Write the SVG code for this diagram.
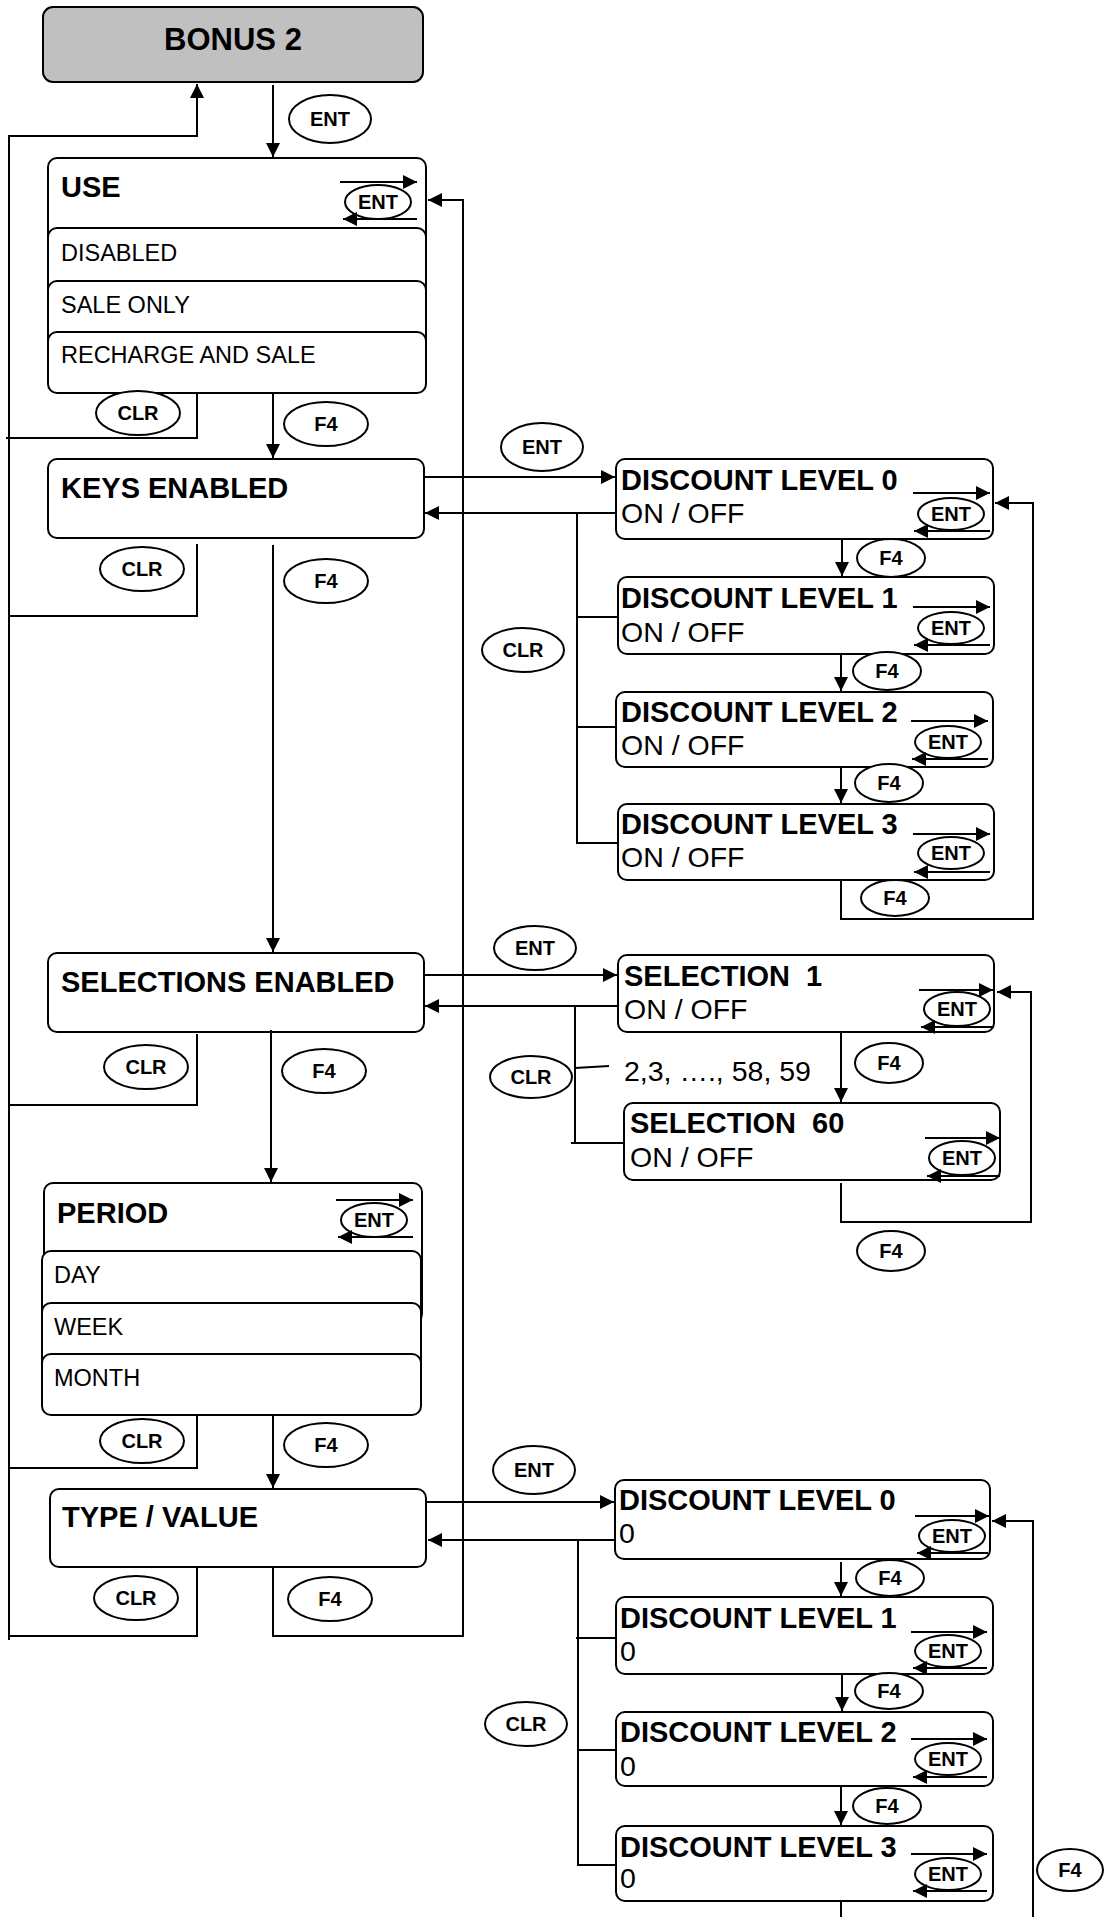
<svg xmlns="http://www.w3.org/2000/svg" width="1104" height="1917" viewBox="0 0 1104 1917">
<defs>
<marker id="ah" markerUnits="userSpaceOnUse" markerWidth="15" markerHeight="14" refX="14" refY="7" orient="auto">
<path d="M0,0 L14,7 L0,14 z" fill="#000"/>
</marker>
<style>
.bx{fill:#fff;stroke:#000;stroke-width:2}
.hd{fill:#c0c0c0;stroke:#000;stroke-width:2}
.el{fill:#fff;stroke:#000;stroke-width:2}
.ln{fill:none;stroke:#000;stroke-width:2}
.ar{fill:none;stroke:#000;stroke-width:2;marker-end:url(#ah)}
text{font-family:"Liberation Sans",Arial,sans-serif;fill:#000}
.k{font-weight:bold;font-size:20px;text-anchor:middle}
.t{font-weight:bold;font-size:29px}
.o{font-size:23.5px}
.v{font-size:28.5px}
</style>
</defs>
<rect width="1104" height="1917" fill="#fff"/>

<g id="bonus2">
<rect class="hd" x="43" y="7" width="380" height="75" rx="10"/>
<text x="233" y="50" font-size="31" font-weight="bold" text-anchor="middle">BONUS 2</text>
</g>

<g id="use">
<rect class="bx" x="48" y="158" width="378" height="142" rx="9"/>
<rect class="bx" x="48" y="228" width="378" height="100" rx="9"/>
<rect class="bx" x="48" y="281" width="378" height="100" rx="9"/>
<rect class="bx" x="48" y="332" width="378" height="61" rx="9"/>
<text class="t" x="61" y="197">USE</text>
<text class="o" x="61" y="261">DISABLED</text>
<text class="o" x="61" y="313">SALE ONLY</text>
<text class="o" x="61" y="363">RECHARGE AND SALE</text>
<ellipse class="el" cx="378" cy="202" rx="33" ry="17"/>
<text class="k" x="378" y="209">ENT</text>
<path class="ar" d="M340,182 H417"/>
<path class="ar" d="M417,219 H343"/>
</g>

<g id="keys">
<rect class="bx" x="48" y="459" width="376" height="79" rx="9"/>
<text class="t" x="61" y="498">KEYS ENABLED</text>
</g>

<g id="selections">
<rect class="bx" x="48" y="953" width="376" height="79" rx="9"/>
<text class="t" x="61" y="992">SELECTIONS ENABLED</text>
</g>

<g id="period">
<rect class="bx" x="44" y="1183" width="378" height="140" rx="9"/>
<rect class="bx" x="42" y="1251" width="379" height="100" rx="9"/>
<rect class="bx" x="42" y="1303" width="379" height="100" rx="9"/>
<rect class="bx" x="42" y="1354" width="379" height="61" rx="9"/>
<text class="t" x="57" y="1223">PERIOD</text>
<text class="o" x="54" y="1283">DAY</text>
<text class="o" x="54" y="1335">WEEK</text>
<text class="o" x="54" y="1386">MONTH</text>
<ellipse class="el" cx="374" cy="1220" rx="33" ry="17"/>
<text class="k" x="374" y="1227">ENT</text>
<path class="ar" d="M336,1200 H413"/>
<path class="ar" d="M413,1237 H338"/>
</g>

<g id="typevalue">
<rect class="bx" x="50" y="1489" width="376" height="78" rx="9"/>
<text class="t" x="62" y="1527">TYPE / VALUE</text>
</g>

<g id="dl0">
<rect class="bx" x="616" y="459" width="377" height="80" rx="9"/>
<text class="t" x="621" y="490">DISCOUNT LEVEL 0</text>
<text class="v" x="621" y="523">ON / OFF</text>
<ellipse class="el" cx="951" cy="514" rx="33" ry="16"/>
<text class="k" x="951" y="521">ENT</text>
<path class="ar" d="M913,493 H990"/>
<path class="ar" d="M990,531 H914"/>
</g>
<g id="dl1">
<rect class="bx" x="618" y="577" width="376" height="77" rx="9"/>
<text class="t" x="621" y="608">DISCOUNT LEVEL 1</text>
<text class="v" x="621" y="642">ON / OFF</text>
<ellipse class="el" cx="951" cy="628" rx="33" ry="16"/>
<text class="k" x="951" y="635">ENT</text>
<path class="ar" d="M913,607 H990"/>
<path class="ar" d="M990,645 H914"/>
</g>
<g id="dl2">
<rect class="bx" x="616" y="692" width="377" height="75" rx="9"/>
<text class="t" x="621" y="722">DISCOUNT LEVEL 2</text>
<text class="v" x="621" y="755">ON / OFF</text>
<ellipse class="el" cx="948" cy="742" rx="33" ry="16"/>
<text class="k" x="948" y="749">ENT</text>
<path class="ar" d="M911,721 H988"/>
<path class="ar" d="M988,759 H912"/>
</g>
<g id="dl3">
<rect class="bx" x="618" y="804" width="376" height="76" rx="9"/>
<text class="t" x="621" y="834">DISCOUNT LEVEL 3</text>
<text class="v" x="621" y="867">ON / OFF</text>
<ellipse class="el" cx="951" cy="853" rx="33" ry="16"/>
<text class="k" x="951" y="860">ENT</text>
<path class="ar" d="M913,834 H990"/>
<path class="ar" d="M990,872 H914"/>
</g>

<g id="sel1">
<rect class="bx" x="618" y="955" width="376" height="77" rx="9"/>
<text class="t" x="624" y="986" xml:space="preserve">SELECTION  1</text>
<text class="v" x="624" y="1019">ON / OFF</text>
<ellipse class="el" cx="957" cy="1009" rx="33" ry="17"/>
<text class="k" x="957" y="1016">ENT</text>
<path class="ar" d="M919,990 H993"/>
<path class="ar" d="M994,1027 H921"/>
</g>
<g id="sel60">
<rect class="bx" x="624" y="1103" width="376" height="77" rx="9"/>
<text class="t" x="630" y="1133" xml:space="preserve">SELECTION  60</text>
<text class="v" x="630" y="1167">ON / OFF</text>
<ellipse class="el" cx="962" cy="1158" rx="33" ry="17"/>
<text class="k" x="962" y="1165">ENT</text>
<path class="ar" d="M925,1138 H1000"/>
<path class="ar" d="M1000,1176 H927"/>
</g>

<g id="dl0b">
<rect class="bx" x="615" y="1480" width="375" height="79" rx="9"/>
<text class="t" x="619" y="1510">DISCOUNT LEVEL 0</text>
<text class="v" x="619" y="1543">0</text>
<ellipse class="el" cx="952" cy="1536" rx="33" ry="16"/>
<text class="k" x="952" y="1543">ENT</text>
<path class="ar" d="M915,1516 H989"/>
<path class="ar" d="M988,1553 H917"/>
</g>
<g id="dl1b">
<rect class="bx" x="616" y="1597" width="377" height="77" rx="9"/>
<text class="t" x="620" y="1628">DISCOUNT LEVEL 1</text>
<text class="v" x="620" y="1661">0</text>
<ellipse class="el" cx="948" cy="1651" rx="33" ry="16"/>
<text class="k" x="948" y="1658">ENT</text>
<path class="ar" d="M911,1632 H987"/>
<path class="ar" d="M987,1668 H913"/>
</g>
<g id="dl2b">
<rect class="bx" x="616" y="1712" width="377" height="74" rx="9"/>
<text class="t" x="620" y="1742">DISCOUNT LEVEL 2</text>
<text class="v" x="620" y="1776">0</text>
<ellipse class="el" cx="948" cy="1759" rx="33" ry="16"/>
<text class="k" x="948" y="1766">ENT</text>
<path class="ar" d="M911,1739 H987"/>
<path class="ar" d="M987,1777 H913"/>
</g>
<g id="dl3b">
<rect class="bx" x="616" y="1826" width="377" height="75" rx="9"/>
<text class="t" x="620" y="1857">DISCOUNT LEVEL 3</text>
<text class="v" x="620" y="1888">0</text>
<ellipse class="el" cx="948" cy="1874" rx="33" ry="16"/>
<text class="k" x="948" y="1881">ENT</text>
<path class="ar" d="M911,1854 H987"/>
<path class="ar" d="M987,1891 H913"/>
</g>

<g id="connectors">
<path class="ar" d="M273,85 V157"/>
<path class="ar" d="M9,1640 V136 H197 V84"/>
<path class="ln" d="M197,393 V438 H6"/>
<path class="ar" d="M273,393 V458"/>
<path class="ln" d="M197,544 V616 H9"/>
<path class="ar" d="M273,545 V952"/>
<path class="ln" d="M197,1034 V1105 H9"/>
<path class="ar" d="M271,1030 V1182"/>
<path class="ln" d="M197,1415 V1468 H9"/>
<path class="ar" d="M273,1415 V1488"/>
<path class="ln" d="M197,1567 V1636 H9"/>
<path class="ar" d="M273,1567 V1636 H463 V200 H428"/>

<path class="ar" d="M424,477 H615"/>
<path class="ar" d="M616,513 H425"/>
<path class="ln" d="M577,513 V843 H618 M577,617 H618 M577,727 H616"/>
<path class="ar" d="M842,539 V576"/>
<path class="ar" d="M841,654 V691"/>
<path class="ar" d="M841,767 V803"/>
<path class="ar" d="M841,880 V919 H1033 V503 H995"/>

<path class="ar" d="M424,975 H617"/>
<path class="ar" d="M618,1006 H425"/>
<path class="ln" d="M575,1006 V1143 M571,1143 H624 M575,1068 L609,1066"/>
<path class="ar" d="M841,1032 V1102"/>
<path class="ar" d="M841,1183 V1222 H1031 V992 H997"/>

<path class="ar" d="M426,1502 H614"/>
<path class="ar" d="M615,1540 H428"/>
<path class="ln" d="M578,1540 V1865 H616 M576,1638 H616 M578,1750 H616"/>
<path class="ar" d="M841,1562 V1596"/>
<path class="ar" d="M842,1674 V1711"/>
<path class="ar" d="M841,1786 V1825"/>
<path class="ln" d="M841,1901 V1917"/>
<path class="ar" d="M1033,1917 V1521 H992"/>
</g>

<text class="v" x="624" y="1081">2,3, …., 58, 59</text>

<g id="keys-labels">
<ellipse class="el" cx="330" cy="119" rx="41" ry="24"/><text class="k" x="330" y="126">ENT</text>
<ellipse class="el" cx="138" cy="413" rx="42" ry="22"/><text class="k" x="138" y="420">CLR</text>
<ellipse class="el" cx="326" cy="424" rx="42" ry="22"/><text class="k" x="326" y="431">F4</text>
<ellipse class="el" cx="142" cy="569" rx="42" ry="22"/><text class="k" x="142" y="576">CLR</text>
<ellipse class="el" cx="326" cy="581" rx="42" ry="22"/><text class="k" x="326" y="588">F4</text>
<ellipse class="el" cx="146" cy="1067" rx="42" ry="22"/><text class="k" x="146" y="1074">CLR</text>
<ellipse class="el" cx="324" cy="1071" rx="42" ry="22"/><text class="k" x="324" y="1078">F4</text>
<ellipse class="el" cx="142" cy="1441" rx="42" ry="22"/><text class="k" x="142" y="1448">CLR</text>
<ellipse class="el" cx="326" cy="1445" rx="42" ry="22"/><text class="k" x="326" y="1452">F4</text>
<ellipse class="el" cx="136" cy="1598" rx="42" ry="22"/><text class="k" x="136" y="1605">CLR</text>
<ellipse class="el" cx="330" cy="1599" rx="42" ry="22"/><text class="k" x="330" y="1606">F4</text>

<ellipse class="el" cx="542" cy="447" rx="41" ry="24"/><text class="k" x="542" y="454">ENT</text>
<ellipse class="el" cx="523" cy="650" rx="41" ry="22"/><text class="k" x="523" y="657">CLR</text>
<ellipse class="el" cx="891" cy="558" rx="34" ry="19"/><text class="k" x="891" y="565">F4</text>
<ellipse class="el" cx="887" cy="671" rx="34" ry="19"/><text class="k" x="887" y="678">F4</text>
<ellipse class="el" cx="889" cy="783" rx="34" ry="19"/><text class="k" x="889" y="790">F4</text>
<ellipse class="el" cx="895" cy="898" rx="34" ry="18"/><text class="k" x="895" y="905">F4</text>

<ellipse class="el" cx="535" cy="948" rx="41" ry="22"/><text class="k" x="535" y="955">ENT</text>
<ellipse class="el" cx="531" cy="1077" rx="41" ry="21"/><text class="k" x="531" y="1084">CLR</text>
<ellipse class="el" cx="889" cy="1063" rx="34" ry="20"/><text class="k" x="889" y="1070">F4</text>
<ellipse class="el" cx="891" cy="1251" rx="34" ry="20"/><text class="k" x="891" y="1258">F4</text>

<ellipse class="el" cx="534" cy="1470" rx="41" ry="24"/><text class="k" x="534" y="1477">ENT</text>
<ellipse class="el" cx="526" cy="1724" rx="41" ry="22"/><text class="k" x="526" y="1731">CLR</text>
<ellipse class="el" cx="890" cy="1578" rx="34" ry="18"/><text class="k" x="890" y="1585">F4</text>
<ellipse class="el" cx="889" cy="1691" rx="34" ry="18"/><text class="k" x="889" y="1698">F4</text>
<ellipse class="el" cx="887" cy="1806" rx="34" ry="18"/><text class="k" x="887" y="1813">F4</text>
<ellipse class="el" cx="1070" cy="1870" rx="33" ry="21"/><text class="k" x="1070" y="1877">F4</text>
</g>
</svg>
